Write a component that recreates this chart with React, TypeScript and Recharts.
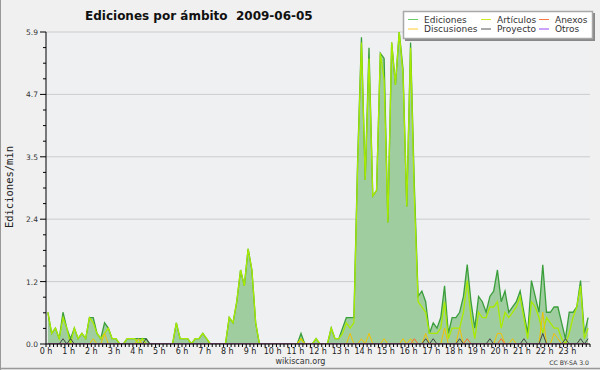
import { Area, CartesianGrid, ComposedChart, Line, XAxis, YAxis } from 'recharts';

// ediciones/min en tramos de 10 minutos, una fila por hora
const ediciones = [
  0.6, 0.2, 0.3, 0.1, 0.6, 0.3,
  0.1, 0.3, 0.1, 0.2, 0.1, 0.5,
  0.5, 0.2, 0.1, 0.4, 0.3, 0.1,
  0.1, 0.0, 0.0, 0.1, 0.1, 0.1,
  0.1, 0.1, 0.1, 0.0, 0.0, 0.0,
  0.0, 0.0, 0.0, 0.0, 0.4, 0.1,
  0.1, 0.1, 0.0, 0.1, 0.1, 0.2,
  0.1, 0.0, 0.0, 0.0, 0.0, 0.0,
  0.5, 0.4, 0.8, 1.4, 1.1, 1.8,
  1.4, 0.4, 0.0, 0.0, 0.0, 0.0,
  0.0, 0.0, 0.0, 0.0, 0.0, 0.0,
  0.0, 0.2, 0.0, 0.0, 0.0, 0.1,
  0.0, 0.0, 0.0, 0.3, 0.1, 0.1,
  0.3, 0.5, 0.5, 0.5, 3.5, 5.8,
  3.1, 5.6, 2.8, 2.9, 5.5, 5.4,
  2.3, 5.7, 4.9, 5.9, 5.2, 2.6,
  5.7, 3.0, 0.9, 1.0, 0.8, 0.2,
  0.4, 0.3, 0.5, 1.1, 0.2, 0.5,
  0.5, 0.6, 0.9, 1.5, 0.8, 0.3,
  0.9, 0.8, 0.6, 0.9, 1.0, 1.4,
  0.8, 1.0, 0.6, 0.7, 0.8, 1.0,
  0.6, 0.2, 1.2, 0.9, 0.6, 1.5,
  0.6, 0.6, 0.7, 0.7, 0.4, 0.1,
  0.6, 0.6, 0.7, 1.2, 0.2, 0.5,
];

const articulos = [
  0.6, 0.2, 0.3, 0.1, 0.5, 0.3,
  0.0, 0.3, 0.1, 0.2, 0.1, 0.5,
  0.4, 0.2, 0.1, 0.2, 0.3, 0.1,
  0.1, 0.0, 0.0, 0.1, 0.1, 0.1,
  0.0, 0.1, 0.0, 0.0, 0.0, 0.0,
  0.0, 0.0, 0.0, 0.0, 0.4, 0.1,
  0.1, 0.1, 0.0, 0.1, 0.1, 0.2,
  0.1, 0.0, 0.0, 0.0, 0.0, 0.0,
  0.5, 0.4, 0.8, 1.4, 1.1, 1.8,
  1.4, 0.4, 0.0, 0.0, 0.0, 0.0,
  0.0, 0.0, 0.0, 0.0, 0.0, 0.0,
  0.0, 0.1, 0.0, 0.0, 0.0, 0.1,
  0.0, 0.0, 0.0, 0.3, 0.1, 0.1,
  0.2, 0.4, 0.3, 0.4, 3.4, 5.7,
  3.1, 5.4, 2.8, 2.9, 5.5, 5.0,
  2.3, 5.7, 4.9, 5.9, 5.1, 2.6,
  5.6, 2.8, 0.8, 0.7, 0.6, 0.2,
  0.2, 0.2, 0.3, 0.8, 0.1, 0.3,
  0.3, 0.3, 0.6, 1.2, 0.5, 0.1,
  0.6, 0.5, 0.5, 0.7, 0.7, 0.8,
  0.3, 0.6, 0.5, 0.6, 0.7, 0.9,
  0.5, 0.1, 0.8, 0.7, 0.5, 0.2,
  0.5, 0.4, 0.3, 0.3, 0.1, 0.0,
  0.2, 0.5, 0.7, 1.1, 0.1, 0.3,
];

const discusiones = [
  0, 0, 0, 0, 0, 0,
  0, 0, 0, 0, 0, 0,
  0.1, 0, 0, 0.2, 0, 0,
  0, 0, 0, 0, 0, 0,
  0.1, 0, 0, 0, 0, 0,
  0, 0, 0, 0, 0, 0,
  0, 0, 0, 0, 0, 0,
  0, 0, 0, 0, 0, 0,
  0, 0, 0, 0, 0, 0,
  0, 0, 0, 0, 0, 0,
  0, 0, 0, 0, 0, 0,
  0, 0.1, 0, 0, 0, 0,
  0, 0, 0, 0, 0, 0,
  0, 0, 0.2, 0, 0, 0.1,
  0, 0.2, 0, 0, 0, 0.1,
  0, 0, 0, 0, 0.1, 0,
  0.1, 0, 0, 0, 0.2, 0,
  0, 0, 0, 0.3, 0, 0,
  0, 0.3, 0, 0, 0, 0,
  0, 0, 0, 0, 0, 0.2,
  0.2, 0, 0, 0.1, 0, 0,
  0, 0, 0, 0, 0, 0.6,
  0, 0, 0.2, 0.1, 0, 0,
  0, 0, 0, 0, 0, 0,
];

const anexos = [
  0, 0, 0, 0, 0, 0,
  0, 0, 0, 0, 0, 0,
  0, 0, 0, 0, 0, 0,
  0, 0, 0, 0, 0, 0,
  0, 0, 0, 0, 0, 0,
  0, 0, 0, 0, 0, 0,
  0, 0, 0, 0, 0, 0,
  0, 0, 0, 0, 0, 0,
  0, 0, 0, 0, 0, 0,
  0, 0, 0, 0, 0, 0,
  0, 0, 0, 0, 0, 0,
  0, 0, 0, 0, 0, 0,
  0, 0, 0, 0, 0, 0,
  0, 0, 0, 0, 0, 0,
  0, 0, 0, 0, 0, 0,
  0, 0, 0, 0, 0, 0,
  0, 0.1, 0, 0, 0, 0,
  0, 0, 0, 0, 0, 0,
  0, 0, 0, 0.1, 0, 0,
  0, 0, 0, 0, 0, 0,
  0.1, 0, 0, 0, 0, 0,
  0, 0, 0, 0, 0, 0,
  0, 0, 0, 0, 0, 0,
  0, 0, 0, 0, 0, 0,
];

const proyecto = [
  0, 0, 0, 0, 0.1, 0,
  0.1, 0, 0, 0, 0, 0,
  0, 0, 0, 0, 0, 0,
  0, 0, 0, 0, 0, 0,
  0, 0, 0.1, 0, 0, 0,
  0, 0, 0, 0, 0, 0,
  0, 0, 0, 0, 0, 0,
  0, 0, 0, 0, 0, 0,
  0, 0, 0, 0, 0, 0,
  0, 0, 0, 0, 0, 0,
  0, 0, 0, 0, 0, 0,
  0, 0, 0, 0, 0, 0,
  0, 0, 0, 0, 0, 0,
  0, 0, 0, 0, 0, 0,
  0, 0, 0, 0, 0, 0,
  0, 0, 0, 0, 0, 0,
  0, 0, 0, 0, 0.1, 0,
  0.1, 0, 0, 0, 0, 0,
  0, 0.1, 0, 0, 0, 0,
  0, 0, 0, 0.1, 0, 0,
  0, 0, 0, 0, 0, 0,
  0.1, 0, 0, 0, 0, 0.2,
  0, 0, 0, 0, 0, 0.1,
  0, 0, 0, 0.1, 0, 0.1,
];

const otros = [
  0, 0, 0, 0, 0, 0, 0, 0, 0, 0, 0, 0, 0, 0, 0, 0, 0, 0, 0, 0, 0, 0, 0, 0,
  0, 0, 0, 0, 0, 0, 0, 0, 0, 0, 0, 0, 0, 0, 0, 0, 0, 0, 0, 0, 0, 0, 0, 0,
  0, 0, 0, 0, 0, 0, 0, 0, 0, 0, 0, 0, 0, 0, 0, 0, 0, 0, 0, 0, 0, 0, 0, 0,
  0, 0, 0, 0, 0, 0, 0, 0, 0, 0, 0, 0, 0, 0, 0, 0, 0, 0, 0, 0, 0, 0, 0, 0,
  0, 0, 0, 0, 0, 0, 0, 0, 0, 0, 0, 0, 0, 0, 0, 0, 0, 0, 0, 0, 0, 0, 0, 0,
  0, 0, 0, 0, 0, 0, 0, 0, 0, 0, 0, 0, 0, 0, 0, 0, 0, 0, 0, 0, 0, 0, 0, 0,
];

const hourLabels = [
  '0 h', '1 h', '2 h', '3 h', '4 h', '5 h', '6 h', '7 h', '8 h', '9 h', '10 h', '11 h',
  '12 h', '13 h', '14 h', '15 h', '16 h', '17 h', '18 h', '19 h', '20 h', '21 h', '22 h', '23 h',
];

const yMajor = [0, 1.18, 2.36, 3.54, 4.72, 5.9];

const legendItems = [
  { name: 'Ediciones', color: '#66cc66' },
  { name: 'Artículos', color: '#ccee22' },
  { name: 'Anexos', color: '#ff7744' },
  { name: 'Discusiones', color: '#ffcc33' },
  { name: 'Proyecto', color: '#555555' },
  { name: 'Otros', color: '#9944ff' },
];

const FONT = "'DejaVu Sans', sans-serif";

const yTicks: number[] = [];
yMajor.forEach((v, i) => {
  yTicks.push(v);
  if (i < yMajor.length - 1) {
    for (let k = 1; k < 4; k++) yTicks.push(v + ((yMajor[i + 1] - v) * k) / 4);
  }
});

const xTicks: number[] = [];
for (let m = 0; m <= 1440; m += 10) xTicks.push(m);

const data = ediciones.map((v, i) => ({
  min: i * 10 + 5,
  ediciones: v,
  articulos: articulos[i],
  discusiones: discusiones[i],
  anexos: anexos[i],
  proyecto: proyecto[i],
  otros: otros[i],
}));

function YTick(props: any) {
  const { x, y, payload } = props;
  const major = yMajor.some((v) => Math.abs(v - payload.value) < 1e-6);
  return (
    <g>
      <line x1={x} x2={x - (major ? 6 : 3)} y1={y} y2={y} stroke="#000" />
      {major && (
        <text x={x - 8} y={y + 3} textAnchor="end" fontSize={7.5} fontFamily={FONT} fill="#333">
          {payload.value.toFixed(1)}
        </text>
      )}
    </g>
  );
}

function XTick(props: any) {
  const { x, y, payload } = props;
  const m = payload.value;
  const label = m % 60 === 0 && m < 1440 ? hourLabels[m / 60] : null;
  return (
    <g>
      <line x1={x} x2={x} y1={y} y2={y + 3} stroke="#000" />
      {label && (
        <text x={x} y={y + 10} textAnchor="middle" fontSize={8} fontFamily={FONT} fill="#222">
          {label}
        </text>
      )}
    </g>
  );
}

export default function App() {
  return (
    <div style={{ position: 'relative', width: 600, height: 370, background: '#f0f0f0' }}>
      <style>{'body{margin:0}'}</style>
      <ComposedChart width={600} height={370} data={data} margin={{ top: 32, right: 10, bottom: 0, left: 0 }}>
        <CartesianGrid vertical={false} horizontalValues={yMajor} stroke="#cccccc" fill="#eef0f2" />
        <Area
          type="linear"
          dataKey="ediciones"
          stroke="#3a9e3a"
          strokeWidth={1.3}
          fill="#a0cda0"
          fillOpacity={1}
          dot={false}
          isAnimationActive={false}
        />
        <Line type="linear" dataKey="articulos" stroke="#a8ea00" strokeWidth={1.3} dot={false} isAnimationActive={false} />
        <Line type="linear" dataKey="discusiones" stroke="#f2c200" strokeWidth={1} dot={false} isAnimationActive={false} />
        <Line type="linear" dataKey="anexos" stroke="#ff6a2a" strokeWidth={1} dot={false} isAnimationActive={false} />
        <Line type="linear" dataKey="proyecto" stroke="#444444" strokeWidth={1} dot={false} isAnimationActive={false} />
        <Line type="linear" dataKey="otros" stroke="#9a3cf0" strokeWidth={1} dot={false} isAnimationActive={false} />
        <XAxis
          type="number"
          dataKey="min"
          domain={[0, 1440]}
          ticks={xTicks}
          interval={0}
          height={26}
          tickSize={0}
          tickMargin={0}
          tickLine={false}
          axisLine={{ stroke: '#000' }}
          tick={(p: any) => <XTick {...p} />}
        />
        <YAxis
          type="number"
          domain={[0, 5.9]}
          ticks={yTicks}
          interval={0}
          width={46}
          tickSize={0}
          tickMargin={0}
          tickLine={false}
          allowDataOverflow
          axisLine={{ stroke: '#000' }}
          tick={(p: any) => <YTick {...p} />}
        />
      </ComposedChart>
      <svg width={600} height={370} style={{ position: 'absolute', left: 0, top: 0, pointerEvents: 'none' }}>
        <text
          x={85}
          y={20}
          fontSize={12}
          fontWeight="bold"
          fontFamily={FONT}
          fill="#111"
          style={{ whiteSpace: 'pre' }}
        >
          {'Ediciones por ámbito  2009-06-05'}
        </text>
        <text
          transform="translate(13,187) rotate(-90)"
          textAnchor="middle"
          fontSize={10.5}
          fontFamily="'DejaVu Sans Mono', monospace"
          fill="#222"
        >
          Ediciones/min
        </text>
        <rect x={405} y={13} width={190} height={28} fill="#888" />
        <rect x={403.5} y={11.5} width={189} height={27} fill="#fff" stroke="#a8a8a8" strokeWidth={1.5} />
        {legendItems.map((it, i) => {
          const col = i % 3;
          const row = Math.floor(i / 3);
          const lx = [408, 481, 539][col];
          const ly = row === 0 ? 19.5 : 29;
          return (
            <g key={it.name}>
              <line x1={lx} x2={lx + 10} y1={ly} y2={ly} stroke={it.color} strokeWidth={1} />
              <text x={lx + 16} y={ly + 3.2} fontSize={9} fontFamily={FONT} fill="#333">
                {it.name}
              </text>
            </g>
          );
        })}
        <text x={300.5} y={364} textAnchor="middle" fontSize={8} fontFamily={FONT} fill="#333">
          wikiscan.org
        </text>
        <text x={589} y={364.5} textAnchor="end" fontSize={6.2} fontFamily={FONT} fill="#333">
          CC BY-SA 3.0
        </text>
        <line x1={0.5} x2={0.5} y1={0} y2={370} stroke="#999" />
        <line x1={0} x2={600} y1={368.5} y2={368.5} stroke="#999" strokeWidth={1.5} />
      </svg>
    </div>
  );
}
